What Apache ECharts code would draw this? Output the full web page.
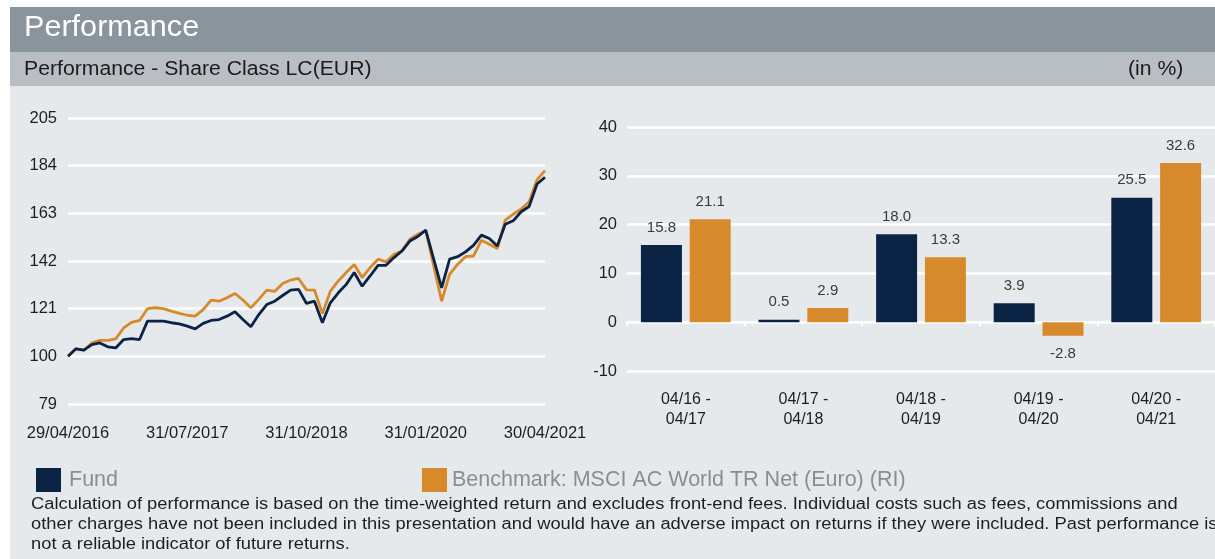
<!DOCTYPE html>
<html>
<head>
<meta charset="utf-8">
<script src="https://cdn.jsdelivr.net/npm/echarts@6/dist/echarts.min.js"></script>
<style>
html,body{margin:0;padding:0;background:#fff;}
#c{width:1215px;height:559px;}
</style>
</head>
<body>
<div id="c"></div>
<script>
const FONT = '"Liberation Sans", Arial, sans-serif';

const dates = [
 '29/04/2016','31/05/2016','30/06/2016','29/07/2016','31/08/2016','30/09/2016','31/10/2016','30/11/2016','30/12/2016',
 '31/01/2017','28/02/2017','31/03/2017','28/04/2017','31/05/2017','30/06/2017','31/07/2017','31/08/2017','29/09/2017','31/10/2017','30/11/2017','29/12/2017',
 '31/01/2018','28/02/2018','29/03/2018','30/04/2018','31/05/2018','29/06/2018','31/07/2018','31/08/2018','28/09/2018','31/10/2018','30/11/2018','31/12/2018',
 '31/01/2019','28/02/2019','29/03/2019','30/04/2019','31/05/2019','28/06/2019','31/07/2019','30/08/2019','30/09/2019','31/10/2019','29/11/2019','31/12/2019',
 '31/01/2020','28/02/2020','31/03/2020','30/04/2020','29/05/2020','30/06/2020','31/07/2020','31/08/2020','30/09/2020','30/10/2020','30/11/2020','31/12/2020',
 '29/01/2021','26/02/2021','31/03/2021','30/04/2021'
];

const fundIndex = [100,103.3,102.7,105.2,105.9,104.2,103.7,107.4,107.8,107.4,
 115.5,115.5,115.5,114.8,114.3,113.3,112.1,114.5,115.8,116.2,
 117.7,119.6,116.2,113.0,118.4,122.8,124.3,126.8,129.2,129.5,
 123.3,124.3,114.8,123.6,128.0,131.7,136.9,130.9,135.4,140.1,
 140.1,143.5,146.4,150.8,152.8,155.6,142.8,130.2,142.8,143.9,
 146.0,148.9,153.4,151.9,148.6,158.2,159.7,163.7,166.0,175.9,178.9];

const benchIndex = [100,103.3,102.7,105.9,107.0,107.0,107.7,112.5,115.0,115.8,
 121.0,121.4,121.0,119.9,118.9,118.1,117.7,120.6,124.8,124.3,
 125.8,127.7,124.8,121.4,125.1,129.2,128.6,132.1,133.6,134.3,
 129.3,129.2,118.9,128.7,133.2,136.9,140.5,134.7,139.1,142.8,
 141.6,145.0,146.4,151.6,153.8,155.3,139.8,124.3,136.1,140.5,
 143.9,144.2,151.1,149.4,147.5,160.0,162.6,164.9,168.1,177.8,181.8];

const periods = ['04/16 -\n04/17','04/17 -\n04/18','04/18 -\n04/19','04/19 -\n04/20','04/20 -\n04/21'];
const fundYearly = [15.8, 0.5, 18.0, 3.9, 25.5];
const benchYearly = [21.1, 2.9, 13.3, -2.8, 32.6];

const lineAxisMin = 79, lineAxisMax = 205, lineAxisStep = 21;
const barAxisMin = -10, barAxisMax = 40, barAxisStep = 10;

const FUND = 'Fund';
const BENCH = 'Benchmark: MSCI AC World TR Net (Euro) (RI)';
const C_FUND = '#0b2446';
const C_BENCH = '#d78a2b';

const footerLines = [
 'Calculation of performance is based on the time-weighted return and excludes front-end fees. Individual costs such as fees, commissions and',
 'other charges have not been included in this presentation and would have an adverse impact on returns if they were included. Past performance is',
 'not a reliable indicator of future returns.'
];

const chart = echarts.init(document.getElementById('c'), null, {renderer:'canvas'});

const barLabel = (pos) => ({
  show: true, position: pos, distance: 10,
  color: '#3a3a3a', fontSize: 15, fontFamily: FONT,
  formatter: p => p.value.toFixed(1)
});

const footerText = (txt, y) => ({
  type:'text', x:31, y:y, scaleX:1.145, silent:true,
  style:{text:txt, fill:'#1e1e1e', font:'16px ' + FONT, textVerticalAlign:'top'}
});

const option = {
  animation: false,
  textStyle: {fontFamily: FONT},
  graphic: [
    {type:'rect', z:-10, silent:true, shape:{x:10,y:86,width:1205,height:473}, style:{fill:'#e6e9ec'}},
    {type:'rect', z:-10, silent:true, shape:{x:10,y:7,width:1205,height:45}, style:{fill:'#89949c'}},
    {type:'rect', z:-10, silent:true, shape:{x:10,y:52,width:1205,height:34}, style:{fill:'#b8bec3'}},
    {type:'text', x:24, y:13, scaleX:1.02, silent:true, style:{text:'Performance', fill:'#ffffff', font:'30px ' + FONT, textVerticalAlign:'top'}},
    {type:'text', x:24, y:59, scaleX:1.06, silent:true, style:{text:'Performance - Share Class LC(EUR)', fill:'#1b1b1b', font:'20px ' + FONT, textVerticalAlign:'top'}},
    {type:'text', x:1128, y:59, scaleX:1.06, silent:true, style:{text:'(in %)', fill:'#1b1b1b', font:'20px ' + FONT, textVerticalAlign:'top'}},
    footerText(footerLines[0], 497),
    footerText(footerLines[1], 517),
    footerText(footerLines[2], 537)
  ],
  legend: [
    {data:[FUND], left:31, top:463, icon:'rect', itemWidth:25, itemHeight:24, selectedMode:false,
     textStyle:{color:'#8d8d8d', fontSize:21.5, fontFamily:FONT, padding:[0,0,0,3]}},
    {data:[BENCH], left:417, top:463, icon:'rect', itemWidth:25, itemHeight:24, selectedMode:false,
     textStyle:{color:'#8d8d8d', fontSize:21.5, fontFamily:FONT, padding:[0,0,0,0]}}
  ],
  grid: [
    {left:68, right:670, top:118, bottom:155},
    {left:627, right:0, top:127, bottom:188}
  ],
  xAxis: [
    {type:'category', gridIndex:0, data:dates, boundaryGap:false,
     axisLine:{show:false}, axisTick:{show:false},
     axisLabel:{interval:14, color:'#1e1e1e', fontSize:16.5, margin:21, fontFamily:FONT}},
    {type:'category', gridIndex:1, data:periods, position:'bottom',
     axisLine:{show:true, onZero:true, lineStyle:{color:'#ffffff', width:2}},
     axisTick:{show:true, length:4, lineStyle:{color:'#ffffff', width:2}},
     axisLabel:{show:false}},
    {type:'category', gridIndex:1, data:periods, position:'bottom',
     axisLine:{show:false, onZero:false}, axisTick:{show:false},
     axisLabel:{color:'#1e1e1e', fontSize:16, lineHeight:20, margin:19, fontFamily:FONT}}
  ],
  yAxis: [
    {type:'value', gridIndex:0, min:lineAxisMin, max:lineAxisMax, interval:lineAxisStep,
     axisLine:{show:false}, axisTick:{show:false},
     splitLine:{lineStyle:{color:'#ffffff', width:2.5}},
     axisLabel:{color:'#1e1e1e', fontSize:16.5, margin:11, fontFamily:FONT}},
    {type:'value', gridIndex:1, min:barAxisMin, max:barAxisMax, interval:barAxisStep,
     axisLine:{show:false}, axisTick:{show:false},
     splitLine:{lineStyle:{color:'#ffffff', width:2.5}},
     axisLabel:{color:'#1e1e1e', fontSize:16.5, margin:10, fontFamily:FONT}}
  ],
  series: [
    {name:BENCH, type:'line', xAxisIndex:0, yAxisIndex:0, data:benchIndex, symbol:'none',
     lineStyle:{color:C_BENCH, width:2.8}, itemStyle:{color:C_BENCH}},
    {name:FUND, type:'line', xAxisIndex:0, yAxisIndex:0, data:fundIndex, symbol:'none',
     lineStyle:{color:C_FUND, width:2.8}, itemStyle:{color:C_FUND}},
    {name:FUND, type:'bar', xAxisIndex:1, yAxisIndex:1, data:fundYearly, barWidth:41, barGap:'19%',
     itemStyle:{color:C_FUND}, label:barLabel('top')},
    {name:BENCH, type:'bar', xAxisIndex:1, yAxisIndex:1, barWidth:41, barGap:'19%',
     data:benchYearly.map(v => ({value:v, label: v < 0 ? {position:'bottom'} : {}})),
     itemStyle:{color:C_BENCH}, label:barLabel('top')}
  ]
};
chart.setOption(option);
</script>
</body>
</html>
